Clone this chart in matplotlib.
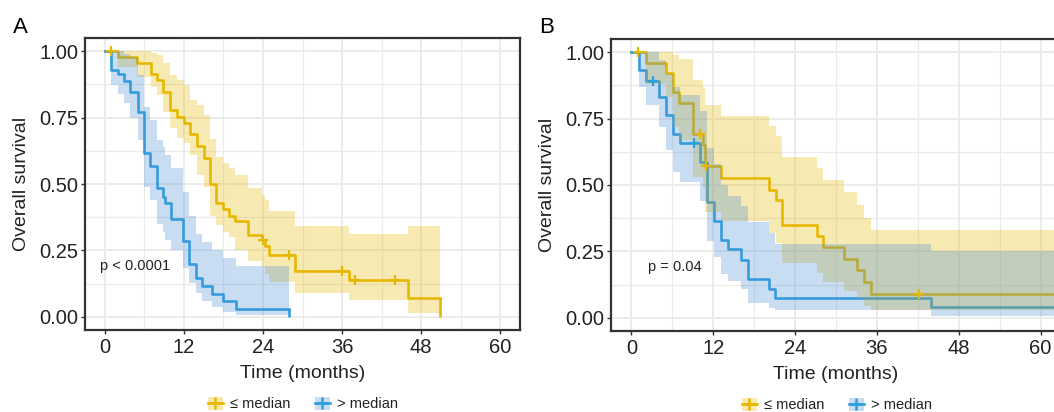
import numpy as np
import matplotlib
matplotlib.use("Agg")
import matplotlib.pyplot as plt
from matplotlib.lines import Line2D
from matplotlib.patches import Patch
from matplotlib.ticker import FixedLocator

plt.rcParams["font.family"] = ["Liberation Sans", "DejaVu Sans"]

# ---- palette ----
GOLD = "#E7B800"
BLUE = "#2E9FDF"
BLUE_FILL = "#4A8FD6"
INK = "#222222"
BORDER = "#333333"
GRID = "#EBEBEB"

# ---- panel A : <= median ----
a_low_t = [0, 2.0, 4.9, 7.0, 7.9, 8.9, 9.95, 11.0, 12.0, 13.0, 14.0, 15.0, 15.9,
           16.9, 17.9, 18.9, 19.8, 21.8, 23.8, 24.3, 24.9, 28.9, 37.0, 46.0]
a_low_s = [1.0, 0.978, 0.957, 0.915, 0.89, 0.847, 0.779, 0.753, 0.73, 0.69, 0.643,
           0.597, 0.50, 0.43, 0.405, 0.38, 0.359, 0.309, 0.29, 0.265, 0.233, 0.174,
           0.14, 0.07]
a_low_up = [1.0, 1.0, 1.0, 0.995, 0.985, 0.954, 0.91, 0.89, 0.872, 0.816, 0.797,
            0.76, 0.671, 0.603, 0.578, 0.559, 0.534, 0.484, 0.459, 0.44, 0.40, 0.34,
            0.311, 0.343]
a_low_lo = [1.0, 0.94, 0.903, 0.866, 0.835, 0.77, 0.71, 0.672, 0.655, 0.61, 0.535,
            0.49, 0.378, 0.346, 0.32, 0.30, 0.25, 0.21, 0.19, 0.16, 0.131, 0.088,
            0.064, 0.015]
a_low_end = 50.9
a_low_cens_t = [1.0, 24.0, 28.0, 36.0, 37.9, 44.0]
a_low_cens_s = [1.0, 0.29, 0.233, 0.174, 0.14, 0.14]

# ---- panel A : > median ----
a_high_t = [0, 1.0, 1.95, 2.9, 3.9, 5.0, 6.0, 6.9, 7.9, 8.9, 9.2, 10.0, 11.9, 12.8,
            13.9, 14.8, 16.2, 18.0, 19.9]
a_high_s = [1.0, 0.93, 0.913, 0.889, 0.847, 0.77, 0.615, 0.568, 0.485, 0.452, 0.427,
            0.37, 0.284, 0.199, 0.146, 0.115, 0.0875, 0.059, 0.03]
a_high_up = [1.0, 1.0, 1.0, 0.99, 0.98, 0.91, 0.79, 0.74, 0.666, 0.64, 0.61, 0.559,
             0.471, 0.378, 0.31, 0.28, 0.25, 0.22, 0.192]
a_high_lo = [1.0, 0.872, 0.838, 0.806, 0.748, 0.666, 0.49, 0.44, 0.35, 0.32, 0.29,
             0.25, 0.185, 0.128, 0.09, 0.06, 0.035, 0.016, 0.005]
a_high_end = 27.9
a_high_cens_t = []
a_high_cens_s = []

# ---- panel B : <= median ----
b_low_t = [0, 2.1, 5.05, 6.03, 7.0, 9.0, 10.5, 10.8, 13.1, 20.2, 21.2, 22.07, 27.2,
           28.15, 31.2, 33.1, 34.1, 35.2]
b_low_s = [1.0, 0.959, 0.921, 0.85, 0.809, 0.694, 0.65, 0.572, 0.525, 0.481, 0.444,
           0.35, 0.309, 0.265, 0.221, 0.179, 0.134, 0.088]
b_low_up = [1.0, 1.0, 1.0, 0.99, 0.975, 0.894, 0.87, 0.80, 0.761, 0.722, 0.685, 0.606,
            0.5625, 0.519, 0.475, 0.425, 0.375, 0.33]
b_low_lo = [1.0, 0.88, 0.83, 0.72, 0.67, 0.53, 0.49, 0.40, 0.365, 0.32, 0.28, 0.205,
            0.17, 0.135, 0.10, 0.075, 0.045, 0.03]
b_low_end = 66
b_low_cens_t = [1.0, 10.0, 11.0, 42.2]
b_low_cens_s = [1.0, 0.694, 0.572, 0.088]

# ---- panel B : > median ----
b_high_t = [0, 1.1, 2.1, 4.1, 5.1, 6.1, 7.1, 10.1, 11.1, 12.1, 13.1, 14.1, 16.1, 17.1,
            20.1, 21.1, 44.0]
b_high_s = [1.0, 0.933, 0.893, 0.833, 0.762, 0.692, 0.657, 0.585, 0.437, 0.365, 0.292,
            0.258, 0.216, 0.145, 0.107, 0.073, 0.04]
b_high_up = [1.0, 1.0, 1.0, 0.97, 0.92, 0.87, 0.84, 0.78, 0.64, 0.58, 0.50, 0.46, 0.42,
             0.36, 0.32, 0.279, 0.25]
b_high_lo = [1.0, 0.87, 0.80, 0.72, 0.63, 0.55, 0.51, 0.44, 0.29, 0.228, 0.165, 0.14,
             0.107, 0.057, 0.038, 0.03, 0.006]
b_high_end = 66
b_high_cens_t = [3.1, 9.1]
b_high_cens_s = [0.893, 0.657]

x_ticks = [0, 12, 24, 36, 48, 60]
y_ticks = [0.0, 0.25, 0.5, 0.75, 1.0]
y_labels = ["0.00", "0.25", "0.50", "0.75", "1.00"]
groups = ["\u2264 median", "> median"]

W, H = 1054, 412
fig = plt.figure(figsize=(W / 100, H / 100), dpi=100)
fig.patch.set_facecolor("white")


def px_axes(l, t, r, b):
    return fig.add_axes([l / W, 1 - b / H, (r - l) / W, (b - t) / H])


def style(ax):
    ax.set_xlim(-3, 63)
    ax.set_ylim(-0.05, 1.05)
    ax.xaxis.set_major_locator(FixedLocator(x_ticks))
    ax.xaxis.set_minor_locator(FixedLocator([6, 18, 30, 42, 54]))
    ax.yaxis.set_major_locator(FixedLocator(y_ticks))
    ax.yaxis.set_minor_locator(FixedLocator([0.125, 0.375, 0.625, 0.875]))
    ax.set_yticklabels(y_labels)
    ax.grid(True, which="major", color=GRID, lw=1.3, zorder=0)
    ax.grid(True, which="minor", color=GRID, lw=0.9, zorder=0)
    ax.set_axisbelow(True)
    ax.tick_params(which="major", length=3.2, width=1.0, color=BORDER,
                   labelsize=14.5, labelcolor=INK, pad=1.5)
    ax.tick_params(axis="x", which="major", pad=2.5)
    ax.tick_params(which="minor", length=0)
    for s in ax.spines.values():
        s.set_color(BORDER)
        s.set_linewidth(1.6)
    ax.set_xlabel("Time (months)", fontsize=14, color=INK, labelpad=6)
    ax.set_ylabel("Overall survival", fontsize=14, color=INK, labelpad=7)


def km_line(ax, t, s, t_end, color, drop):
    tt = np.append(t, t_end)
    ss = np.append(s, s[-1])
    ax.step(tt, ss, where="post", color=color, lw=1.9, zorder=3)
    if drop:
        ax.plot([t_end, t_end], [s[-1], 0], color=color, lw=1.9, zorder=3,
                solid_capstyle="butt")


def km_band(ax, t, up, lo, t_end, color):
    tt = np.append(t, t_end)
    ax.fill_between(tt, np.append(lo, lo[-1]), np.append(up, up[-1]), step="post",
                    color=color, alpha=0.3, lw=0, zorder=4)


def km_cens(ax, ct, cs, color):
    if ct:
        ax.plot(ct, cs, ls="none", marker="+", ms=6.5, mew=1.6, color=color, zorder=5)


def legend(cx, cy):
    hs = []
    for c, f in ((GOLD, GOLD), (BLUE, BLUE_FILL)):
        hs.append((Patch(facecolor=f, alpha=0.3, lw=0),
                   Line2D([], [], color=c, lw=1.9, marker="+", ms=8, mew=1.8)))
    fig.legend(hs, groups, loc="center", bbox_to_anchor=(cx / W, 1 - cy / H),
               ncol=2, frameon=False, fontsize=10.5, handlelength=1.0,
               handleheight=1.0, handletextpad=0.5, columnspacing=1.7,
               labelcolor=INK, borderpad=0)


# ---- panel A ----
axA = px_axes(85, 38, 520, 330)
style(axA)
km_line(axA, a_low_t, a_low_s, a_low_end, GOLD, True)
km_line(axA, a_high_t, a_high_s, a_high_end, BLUE, True)
km_band(axA, a_low_t, a_low_up, a_low_lo, a_low_end, GOLD)
km_band(axA, a_high_t, a_high_up, a_high_lo, a_high_end, BLUE_FILL)
km_cens(axA, a_low_cens_t, a_low_cens_s, GOLD)
km_cens(axA, a_high_cens_t, a_high_cens_s, BLUE)
axA.text(-0.8, 0.19, "p < 0.0001", fontsize=10.5, color=INK, ha="left", va="center",
         zorder=6)
fig.text(13 / W, 1 - 33 / H, "A", fontsize=16, color="black", ha="left",
         va="baseline")
legend(303, 404)

# ---- panel B (its right edge runs past the figure, as in the source crop) ----
axB = px_axes(611, 39, 1061, 331)
style(axB)
km_line(axB, b_low_t, b_low_s, b_low_end, GOLD, False)
km_line(axB, b_high_t, b_high_s, b_high_end, BLUE, False)
km_band(axB, b_low_t, b_low_up, b_low_lo, b_low_end, GOLD)
km_band(axB, b_high_t, b_high_up, b_high_lo, b_high_end, BLUE_FILL)
km_cens(axB, b_low_cens_t, b_low_cens_s, GOLD)
km_cens(axB, b_high_cens_t, b_high_cens_s, BLUE)
axB.text(2.4, 0.19, "p = 0.04", fontsize=10.5, color=INK, ha="left", va="center",
         zorder=6)
fig.text(539 / W, 1 - 33 / H, "B", fontsize=16, color="black", ha="left",
         va="baseline")
legend(837, 405)

fig.savefig("out.png", dpi=100, facecolor="white")
